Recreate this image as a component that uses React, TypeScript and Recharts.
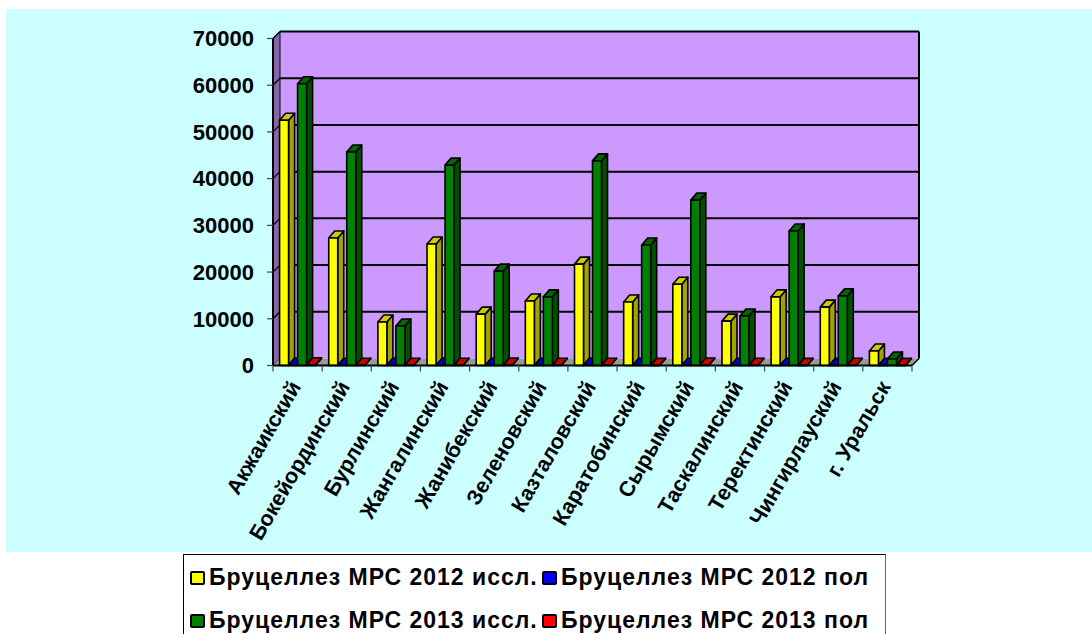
import { Bar, BarChart, ReferenceArea, ReferenceLine, XAxis, YAxis } from "recharts";

const districts = [
  "Акжаикский",
  "Бокейординский",
  "Бурлинский",
  "Жангалинский",
  "Жанибекский",
  "Зеленовский",
  "Казталовский",
  "Каратобинский",
  "Сырымский",
  "Таскалинский",
  "Теректинский",
  "Чингирлауский",
  "г. Уральск",
];
const tested2012 = [52500, 27300, 9300, 26000, 11000, 13800, 21700, 13600, 17400, 9500, 14700, 12500, 3100];
const positive2012 = [120, 60, 90, 70, 60, 50, 110, 40, 60, 50, 60, 30, 20];
const tested2013 = [60300, 45700, 8450, 42900, 20200, 14700, 43800, 25800, 35400, 10600, 28800, 14900, 1400];
const positive2013 = [150, 60, 40, 50, 70, 50, 60, 30, 110, 40, 30, 40, 30];
const yTicks = [0, 10000, 20000, 30000, 40000, 50000, 60000, 70000];
const wallLines = [10000, 20000, 30000, 40000, 50000, 60000, 70000];

const rows = districts.map((name, i) => ({
  name,
  tested2012: tested2012[i],
  positive2012: positive2012[i],
  tested2013: tested2013[i],
  positive2013: positive2013[i],
}));

const FONT = '"Liberation Sans", Arial, sans-serif';
const DEPTH_X = 7;
const DEPTH_Y = 7;
const BAR_DX = 6;
const BAR_DY = 7;

const PLOT_LEFT = 273;
const PLOT_RIGHT = 912;
const PLOT_TOP = 38.5;
const PLOT_BOTTOM = 365.5;
const BAND = (PLOT_RIGHT - PLOT_LEFT) / districts.length;

const WIDTH = 1092;
const HEIGHT = 634;

const pts = (list: number[][]) => list.map((p) => p.join(",")).join(" ");

// Extruded column: front face, darker top and side, black outline.
function makeColumn(front: string, top: string, side: string) {
  return function Column(props: any) {
    const { x, y, width, height } = props;
    const stroke = { stroke: "#000", strokeWidth: 1.6, strokeLinejoin: "round" as const };
    return (
      <g>
        <polygon
          points={pts([
            [x + width, y],
            [x + width + BAR_DX, y - BAR_DY],
            [x + width + BAR_DX, y + height - BAR_DY],
            [x + width, y + height],
          ])}
          fill={side}
          {...stroke}
        />
        <polygon
          points={pts([
            [x, y],
            [x + BAR_DX, y - BAR_DY],
            [x + width + BAR_DX, y - BAR_DY],
            [x + width, y],
          ])}
          fill={top}
          {...stroke}
        />
        <rect x={x} y={y} width={width} height={height} fill={front} {...stroke} />
      </g>
    );
  };
}

// Back wall, side wall and floor of the 3D box behind the columns.
function Box(props: any) {
  const { x, y, width, height } = props;
  const r = x + width;
  const b = y + height;
  return (
    <g>
      <polygon
        points={pts([
          [x + DEPTH_X, y - DEPTH_Y],
          [r + DEPTH_X, y - DEPTH_Y],
          [r + DEPTH_X, b - DEPTH_Y],
          [x + DEPTH_X, b - DEPTH_Y],
        ])}
        fill="#CC99FF"
      />
      <polygon
        points={pts([
          [x, y],
          [x + DEPTH_X, y - DEPTH_Y],
          [x + DEPTH_X, b - DEPTH_Y],
          [x, b],
        ])}
        fill="#8566A8"
        stroke="#000"
        strokeWidth={1}
      />
      <polygon
        points={pts([
          [x, b],
          [x + DEPTH_X, b - DEPTH_Y],
          [r + DEPTH_X, b - DEPTH_Y],
          [r, b],
        ])}
        fill="#999999"
      />
      <line x1={r + DEPTH_X} y1={y - DEPTH_Y} x2={r + DEPTH_X} y2={b - DEPTH_Y} stroke="#000" strokeWidth={2} />
      <line x1={r} y1={b} x2={r + DEPTH_X} y2={b - DEPTH_Y} stroke="#000" strokeWidth={1.5} />
      <line x1={x} y1={y} x2={x} y2={b} stroke="#000" strokeWidth={2} />
    </g>
  );
}

// Gridline on the back wall, with its short diagonal across the side wall.
function WallLine(props: any) {
  const { x1, x2, y1 } = props;
  return (
    <g>
      <line x1={x1} y1={y1} x2={x1 + DEPTH_X} y2={y1 - DEPTH_Y} stroke="#000" strokeWidth={1.2} />
      <line x1={x1 + DEPTH_X} y1={y1 - DEPTH_Y} x2={x2 + DEPTH_X} y2={y1 - DEPTH_Y} stroke="#000" strokeWidth={2} />
    </g>
  );
}

// Category label plus the tick marks, which sit on the band edges.
function DistrictTick(props: any) {
  const { x, y, payload, index } = props;
  const left = x - BAND / 2;
  const last = index === districts.length - 1;
  const tx = x + 4;
  const ty = y + 13;
  return (
    <g>
      <line x1={left} y1={PLOT_BOTTOM} x2={left} y2={PLOT_BOTTOM + 6} stroke="#444" strokeWidth={1.2} />
      {last && (
        <line x1={left + BAND} y1={PLOT_BOTTOM} x2={left + BAND} y2={PLOT_BOTTOM + 6} stroke="#444" strokeWidth={1.2} />
      )}
      <text
        x={tx}
        y={ty}
        textAnchor="end"
        transform={`rotate(-60 ${tx} ${ty})`}
        fontFamily={FONT}
        fontWeight={700}
        fontSize={21.5}
        fill="#000"
      >
        {payload.value}
      </text>
    </g>
  );
}

const series = [
  { key: "tested2012", label: "Бруцеллез МРС 2012 иссл.", front: "#FFFF00", top: "#CCCC00", side: "#A3A300" },
  { key: "positive2012", label: "Бруцеллез МРС 2012 пол", front: "#0000FF", top: "#0000CC", side: "#0000A0" },
  { key: "tested2013", label: "Бруцеллез МРС 2013 иссл.", front: "#008000", top: "#006400", side: "#005000" },
  { key: "positive2013", label: "Бруцеллез МРС 2013 пол", front: "#FF0000", top: "#CC0000", side: "#A00000" },
];

function LegendBox() {
  return (
    <div
      style={{
        position: "absolute",
        left: 183,
        top: 554,
        width: 703,
        height: 86,
        boxSizing: "border-box",
        border: "1.5px solid #000",
        borderRightColor: "#666",
        background: "#fff",
        fontFamily: FONT,
        fontWeight: 700,
        fontSize: 23,
        letterSpacing: 1,
        color: "#000",
        display: "grid",
        gridTemplateColumns: "352px 340px",
        gridAutoRows: "43px",
        alignItems: "center",
        padding: "1px 0 0 6px",
      }}
    >
      {series.map((s) => (
        <div key={s.key} style={{ display: "flex", alignItems: "center", whiteSpace: "nowrap" }}>
          <span
            style={{
              width: 11,
              height: 10,
              marginRight: 4,
              background: s.front,
              border: "2.5px solid #000",
              borderRadius: 2,
              flex: "none",
            }}
          />
          {s.label}
        </div>
      ))}
    </div>
  );
}

export default function App() {
  return (
    <div style={{ position: "absolute", left: 0, top: 0, width: WIDTH, height: HEIGHT, overflow: "hidden", background: "#fff" }}>
      <div style={{ position: "absolute", left: 6, top: 9, width: WIDTH - 6, height: 543, background: "#CCFFFF" }} />
      <div style={{ position: "absolute", left: 0, top: 0 }}>
        <BarChart
          width={WIDTH}
          height={HEIGHT}
          data={rows}
          margin={{ top: PLOT_TOP, right: WIDTH - PLOT_RIGHT, left: 173, bottom: 0 }}
          barCategoryGap="13.4%"
          barGap={0}
        >
          <XAxis
            dataKey="name"
            height={HEIGHT - PLOT_BOTTOM}
            interval={0}
            tick={<DistrictTick />}
            tickLine={false}
            axisLine={{ stroke: "#000", strokeWidth: 2 }}
          />
          <YAxis
            domain={[0, 70000]}
            ticks={yTicks}
            width={100}
            interval={0}
            tickSize={6}
            tickLine={{ stroke: "#444", strokeWidth: 1.2 }}
            axisLine={false}
            tick={{ fill: "#000", fontFamily: FONT, fontWeight: 700, fontSize: 22 }}
            tickMargin={13}
          />
          <ReferenceArea y1={0} y2={70000} shape={<Box />} ifOverflow="visible" />
          {wallLines.map((v) => (
            <ReferenceLine key={v} y={v} ifOverflow="visible" shape={<WallLine />} zIndex={150} />
          ))}
          {series.map((s) => (
            <Bar
              key={s.key}
              dataKey={s.key}
              name={s.label}
              fill={s.front}
              isAnimationActive={false}
              shape={makeColumn(s.front, s.top, s.side)}
            />
          ))}
        </BarChart>
      </div>
      <LegendBox />
    </div>
  );
}
